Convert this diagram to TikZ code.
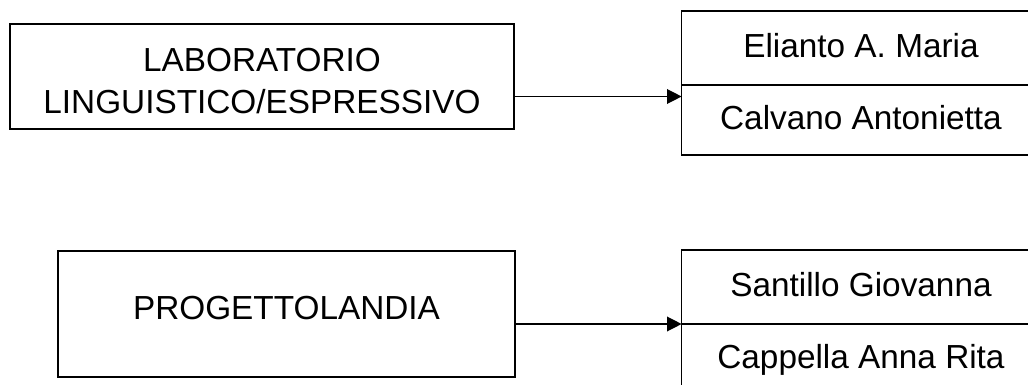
\documentclass[tikz,border=0pt]{standalone}
\usepackage{fontspec}
\setmainfont{Liberation Sans}
\usepackage{tikz}
\usetikzlibrary{positioning,arrows.meta}

\tikzset{
	box/.style={draw, rectangle, line width=1.2pt, font=\fontsize{25pt}{32pt}\selectfont},
	namecell/.style={box, outer sep=0pt, minimum width=269pt, minimum height=54pt, text height=18.5pt, text depth=4.5pt},
	arr/.style={-{Triangle[length=11pt,width=11pt]}, line width=1pt}
}

\begin{document}
\begin{tikzpicture}[x=0.75pt, y=-0.75pt]
		\clip (0,0) rectangle (1028,385);
		\node[box, minimum width=378pt, minimum height=78.75pt, inner ysep=0pt, align=center, text height=56.2pt, text depth=0pt] (lab) at (262,76.5) {LABORATORIO\\LINGUISTICO/ESPRESSIVO};
		\node[box, minimum width=342.75pt, minimum height=94.5pt, text height=18.2pt, text depth=10.5pt] (prog) at (286.5,314) {PROGETTOLANDIA};
		
		\node[namecell, minimum height=55.5pt] (elianto) at (861,48) {Elianto A. Maria};
		\node[namecell, minimum height=52.5pt, below=0pt of elianto] (calvano) {Calvano Antonietta};
		\node[namecell, minimum height=55.5pt] (santillo) at (861,287) {Santillo Giovanna};
		\node[namecell, minimum height=52.5pt, below=0pt of santillo] (cappella) {Cappella Anna Rita};
		
		\draw[arr] ([yshift=-15pt]lab.east) -- ([yshift=-15pt]lab.east -| calvano.west);
		\draw[arr] (prog.east |- cappella.north) -- (cappella.north west);
	\end{tikzpicture}
\end{document}
